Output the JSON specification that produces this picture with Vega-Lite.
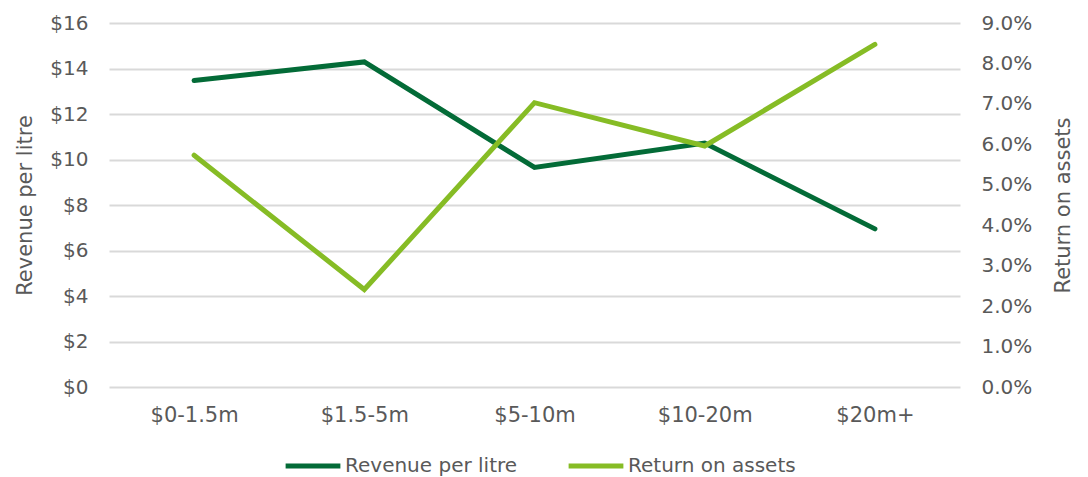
{
  "$schema": "https://vega.github.io/schema/vega-lite/v6.json",
  "width": 851,
  "height": 364,
  "autosize": {"type": "none"},
  "padding": {"left": 109, "top": 23, "right": 128, "bottom": 90},
  "background": "white",
  "config": {
    "view": {"stroke": null},
    "font": "DejaVu Sans",
    "axis": {"labelColor": "#595959", "titleColor": "#595959", "labelFontSize": 20, "titleFontSize": 21, "titleFontWeight": "normal", "domain": false, "ticks": false},
    "legend": {"labelColor": "#595959", "labelFontSize": 20, "labelLimit": 400}
  },
  "data": {
    "values": [
      {"band": "$0-1.5m", "revenue": 13.47, "roa": 0.0573},
      {"band": "$1.5-5m", "revenue": 14.29, "roa": 0.0241},
      {"band": "$5-10m", "revenue": 9.65, "roa": 0.0703},
      {"band": "$10-20m", "revenue": 10.72, "roa": 0.0596},
      {"band": "$20m+", "revenue": 6.95, "roa": 0.0847}
    ]
  },
  "encoding": {
    "x": {
      "field": "band",
      "type": "ordinal",
      "sort": null,
      "scale": {"type": "point", "padding": 0.5},
      "axis": {"title": null, "labelAngle": 0, "labelPadding": 17, "labelFontSize": 21, "grid": false}
    }
  },
  "layer": [
    {
      "mark": {"type": "line", "strokeWidth": 5, "strokeCap": "round", "strokeJoin": "miter"},
      "encoding": {
        "y": {
          "field": "revenue",
          "type": "quantitative",
          "scale": {"domain": [0, 16]},
          "axis": {"title": "Revenue per litre", "values": [0, 2, 4, 6, 8, 10, 12, 14, 16], "format": "$.0f", "labelPadding": 21, "titlePadding": 14, "grid": true, "gridColor": "#d9d9d9", "gridWidth": 2}
        },
        "color": {"datum": "Revenue per litre", "type": "nominal"}
      }
    },
    {
      "mark": {"type": "line", "strokeWidth": 5, "strokeCap": "round", "strokeJoin": "miter"},
      "encoding": {
        "y": {
          "field": "roa",
          "type": "quantitative",
          "scale": {"domain": [0, 0.09]},
          "axis": {"title": "Return on assets", "orient": "right", "titleAngle": 270, "titleBaseline": "top", "values": [0, 0.01, 0.02, 0.03, 0.04, 0.05, 0.06, 0.07, 0.08, 0.09], "format": ".1%", "labelPadding": 21, "titlePadding": 21, "grid": false}
        },
        "color": {
          "datum": "Return on assets",
          "type": "nominal",
          "scale": {"domain": ["Revenue per litre", "Return on assets"], "range": ["#036b37", "#86bc25"]},
          "legend": {"title": null, "orient": "none", "legendX": 174, "legendY": 413, "direction": "horizontal", "symbolType": "stroke", "symbolSize": 3000, "symbolStrokeWidth": 5, "labelOffset": 2, "columnPadding": 40}
        }
      }
    }
  ],
  "resolve": {"scale": {"y": "independent"}}
}
